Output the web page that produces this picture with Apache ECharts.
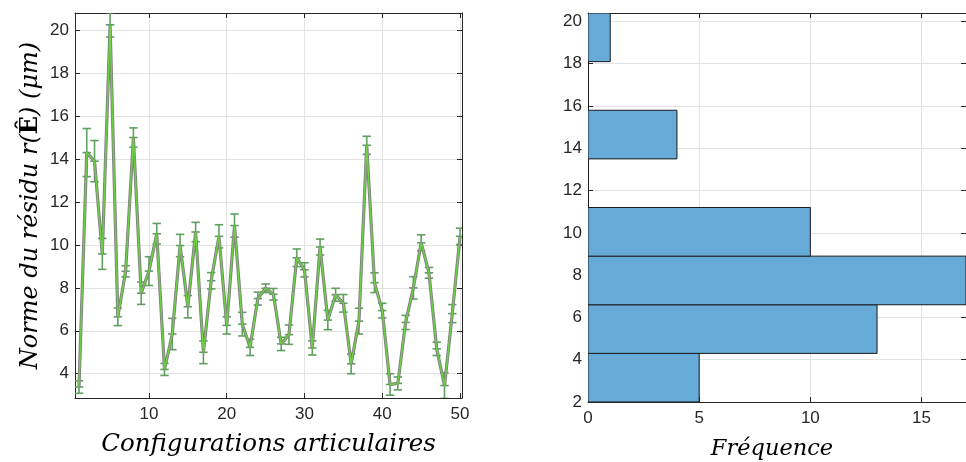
<!DOCTYPE html>
<html><head><meta charset="utf-8">
<script src="https://cdn.jsdelivr.net/npm/echarts@6/dist/echarts.min.js"></script>
<style>html,body{margin:0;padding:0;background:#fff}#c{width:966px;height:462px}</style>
</head><body><div id="c"></div>
<script>
// ---- data ----
const configs = [1,2,3,4,5,6,7,8,9,10,11,12,13,14,15,16,17,18,19,20,21,22,23,24,25,26,27,28,29,30,31,32,33,34,35,36,37,38,39,40,41,42,43,44,45,46,47,48,49,50];
const residuals = [3.38,14.3,13.9,9.58,20.25,6.65,8.77,15.0,7.75,8.78,10.52,4.2,5.85,9.97,7.12,10.6,5.0,8.33,10.4,6.25,10.9,6.31,5.23,7.5,7.98,7.7,5.39,5.82,9.4,8.84,5.2,9.9,6.5,7.68,7.28,4.46,6.45,14.64,8.24,6.94,3.5,3.55,6.39,8.0,10.1,8.7,5.16,3.45,6.8,10.4];
const errors = [0.29,1.12,0.96,0.72,0.57,0.41,0.26,0.45,0.52,0.67,0.48,0.28,0.73,0.52,0.52,0.45,0.53,0.38,0.54,0.4,0.54,0.55,0.38,0.3,0.2,0.27,0.31,0.45,0.41,0.33,0.33,0.37,0.45,0.3,0.41,0.46,0.6,0.42,0.46,0.34,0.5,0.3,0.33,0.52,0.37,0.25,0.31,0.6,0.42,0.38];
const xTicks = [10,20,30,40,50];
const yTicks = [4,6,8,10,12,14,16,18,20];
const histEdges = [2,4.3,6.6,8.9,11.2,13.5,15.8,18.1,20.4];
const histCounts = [5,13,17,10,0,4,0,1];
const histYTicks = [2,4,6,8,10,12,14,16,18,20];
const histXTicks = [0,5,10,15];

const AX = '#262626', GRID = '#e3e3e3';
const tickFont = {color: AX, fontSize: 17, fontFamily: 'Liberation Sans, Arial, sans-serif'};
const SERIF = 'DejaVu Serif, serif';
const serifIt = {fontFamily: SERIF, fontStyle: 'italic', fontWeight: 'normal', color: '#000'};

function mainAxis(extra){
  return Object.assign({
    type: 'value',
    axisLine: {show: true, onZero: false, lineStyle: {color: AX, width: 1}},
    axisTick: {show: true, inside: true, length: 5, lineStyle: {color: AX}},
    axisLabel: Object.assign({show: true}, tickFont),
    splitLine: {show: true, lineStyle: {color: GRID, width: 1}}
  }, extra);
}
function boxAxis(extra){
  return Object.assign({
    type: 'value',
    axisLine: {show: true, onZero: false, lineStyle: {color: AX, width: 1}},
    axisTick: {show: true, inside: true, length: 5, lineStyle: {color: AX}},
    axisLabel: {show: false},
    splitLine: {show: false}
  }, extra);
}

const lineData = configs.map((c, i) => [c, residuals[i]]);
const errData = configs.map((c, i) => [c, residuals[i], errors[i]]);
const histData = histCounts.map((n, i) => [histEdges[i], histEdges[i+1], n]);

const X0 = {min: 0.49, max: 50.25}, Y0 = {min: 2.87, max: 20.8};
const HX = {min: 0, max: 17}, HY = {min: 2, max: 20.4};

const option = {
  animation: false,
  backgroundColor: '#fff',
  grid: [
    {left: 75, top: 13, width: 387, height: 387.5},
    {left: 588, top: 13, width: 389, height: 389}
  ],
  xAxis: [
    mainAxis(Object.assign({gridIndex: 0, position: 'bottom',
      axisTick: {show: true, inside: true, length: 5, customValues: xTicks, lineStyle: {color: AX}},
      axisLabel: Object.assign({customValues: xTicks, margin: 8}, tickFont),
      name: 'Configurations articulaires', nameLocation: 'middle', nameGap: 34,
      nameTextStyle: Object.assign({fontSize: 24.5}, serifIt)}, X0)),
    boxAxis(Object.assign({gridIndex: 0, position: 'top',
      axisTick: {show: true, inside: true, length: 5, customValues: xTicks, lineStyle: {color: AX}}}, X0)),
    mainAxis(Object.assign({gridIndex: 1, position: 'bottom',
      axisTick: {show: true, inside: true, length: 5, customValues: histXTicks, lineStyle: {color: AX}},
      axisLabel: Object.assign({customValues: histXTicks, margin: 8}, tickFont)}, HX)),
    boxAxis(Object.assign({gridIndex: 1, position: 'top',
      axisTick: {show: true, inside: true, length: 5, customValues: histXTicks, lineStyle: {color: AX}}}, HX))
  ],
  yAxis: [
    mainAxis(Object.assign({gridIndex: 0, position: 'left',
      axisTick: {show: true, inside: true, length: 5, customValues: yTicks, lineStyle: {color: AX}},
      axisLabel: Object.assign({customValues: yTicks, margin: 6}, tickFont),
      name: '{i|Norme du résidu r(}{b|Ê}{i|) (μm)}', nameLocation: 'middle', nameGap: 32,
      nameTextStyle: {rich: {
        i: Object.assign({fontSize: 24}, serifIt),
        b: {fontSize: 24, fontFamily: SERIF, fontWeight: 'bold', color: '#000'}
      }}}, Y0)),
    boxAxis(Object.assign({gridIndex: 0, position: 'right',
      axisTick: {show: true, inside: true, length: 5, customValues: yTicks, lineStyle: {color: AX}}}, Y0)),
    mainAxis(Object.assign({gridIndex: 1, position: 'left',
      axisTick: {show: true, inside: true, length: 5, customValues: histYTicks, lineStyle: {color: AX}},
      axisLabel: Object.assign({customValues: histYTicks, margin: 6}, tickFont)}, HY)),
    boxAxis(Object.assign({gridIndex: 1, position: 'right',
      axisTick: {show: true, inside: true, length: 5, customValues: histYTicks, lineStyle: {color: AX}}}, HY))
  ],
  graphic: [
    {type: 'text', x: 772, y: 449, style: {text: 'Fréquence', fontSize: 22.5, fontFamily: SERIF, fontStyle: 'italic',
      align: 'center', verticalAlign: 'middle', fill: '#000'}}
  ],
  series: [
    {
      type: 'custom', xAxisIndex: 0, yAxisIndex: 0, clip: true, z: 2,
      data: errData, encode: {x: 0, y: 1},
      renderItem: function(params, api){
        const x = api.value(0), v = api.value(1), e = api.value(2);
        const t = api.coord([x, v + e]), b = api.coord([x, v - e]), m = api.coord([x, v]);
        const w = 4.2;
        const st = {stroke: '#5f9f5f', lineWidth: 1.6};
        return {type: 'group', children: [
          {type: 'line', shape: {x1: t[0], y1: t[1], x2: b[0], y2: b[1]}, style: st},
          {type: 'line', shape: {x1: t[0]-w, y1: t[1], x2: t[0]+w, y2: t[1]}, style: st},
          {type: 'line', shape: {x1: b[0]-w, y1: b[1], x2: b[0]+w, y2: b[1]}, style: st},
          {type: 'line', shape: {x1: m[0]-w, y1: m[1], x2: m[0]+w, y2: m[1]}, style: st}
        ]};
      }
    },
    {type: 'line', xAxisIndex: 0, yAxisIndex: 0, data: lineData, symbol: 'none', z: 3,
      lineStyle: {color: '#808080', width: 3.2}},
    {type: 'line', xAxisIndex: 0, yAxisIndex: 0, data: lineData, symbol: 'none', z: 4,
      lineStyle: {color: '#6ccf44', width: 1.5}},
    {
      type: 'custom', xAxisIndex: 2, yAxisIndex: 2, clip: true, z: 2,
      data: histData, encode: {x: 2, y: [0, 1]},
      renderItem: function(params, api){
        const lo = api.value(0), hi = api.value(1), n = api.value(2);
        const p1 = api.coord([0, hi]), p2 = api.coord([n, lo]);
        return {type: 'rect', shape: {x: p1[0], y: p1[1], width: p2[0] - p1[0], height: p2[1] - p1[1]},
          style: {fill: '#66aad7', stroke: '#1a1a1a', lineWidth: 1}};
      }
    }
  ]
};
const chart = echarts.init(document.getElementById('c'), null, {renderer: 'canvas'});
chart.setOption(option);
</script></body></html>
